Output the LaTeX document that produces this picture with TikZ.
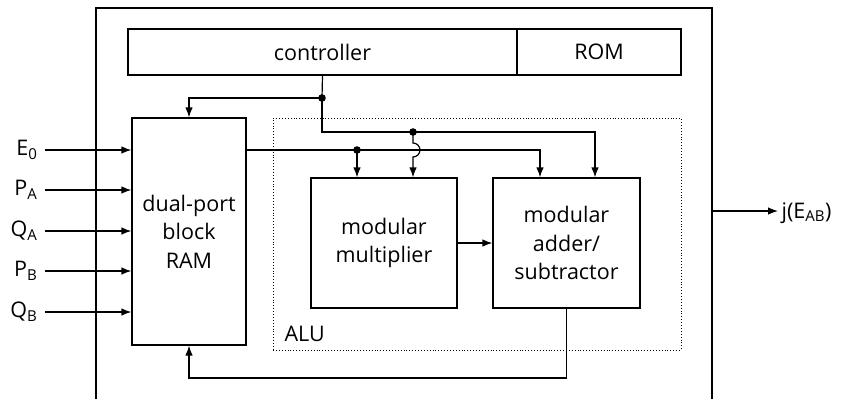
\documentclass[tikz,border=0pt]{standalone}
\usepackage{fontspec}
\setmainfont{Open Sans}
\usetikzlibrary{arrows.meta}
\begin{document}
\begin{tikzpicture}[x=1pt,y=-1pt,
  line width=1.2pt,
  box/.style={draw, rectangle, inner sep=0pt, align=center,
    font=\fontsize{21.5}{28.5}\selectfont},
  alubox/.style={draw, dotted, line width=0.9pt, rectangle, inner sep=0pt},
  lbl/.style={inner sep=0pt, font=\fontsize{21.5}{28.5}\selectfont},
  arr/.style={-{Latex[length=10pt,width=7.5pt]}},
  dot/.style={fill=black}]
\useasboundingbox (0,0) rectangle (857,399);
% outer frame
\draw (96,399) -- (96,8) -- (712,8) -- (712,399);
% blocks
\node[box, minimum width=389pt, minimum height=46pt] (ctrl) at (322.5,52) {controller};
\node[box, minimum width=164pt, minimum height=46pt] (rom) at (599,52) {ROM};
\node[box, minimum width=114pt, minimum height=227pt] (ram) at (189,231.5) {dual-port\\block\\RAM};
\node[alubox, minimum width=408pt, minimum height=232pt] (alu) at (477,234) {};
\node[lbl, anchor=south west] (alulbl) at (284,342) {ALU};
\node[box, minimum width=146pt, minimum height=130pt] (mult) at (384,243) {modular\\multiplier};
\node[box, minimum width=147pt, minimum height=130pt] (add) at (566.5,243) {modular\\adder/\\subtractor};
% inputs
\foreach \n/\y/\t in {e0/150/{E\textsubscript{0}}, pa/190/{P\textsubscript{A}}, qa/231/{Q\textsubscript{A}}, pb/271/{P\textsubscript{B}}, qb/312/{Q\textsubscript{B}}}{
  \coordinate (i\n) at (45,\y);
  \node[lbl, anchor=east] (\n) at (38,\y) {\t};
  \draw[arr] (i\n) -- (i\n -| ram.west);
}
% controller distribution
\coordinate (j1) at (322,98);
\coordinate (j2) at (413,132);
\coordinate (j3) at (357,150);
\draw (ctrl.south) -- (j1);
\draw[arr] (j1) -| (ram.north);
\draw[arr] (j1) |- (j2) -| ([xshift=28.5pt]add.north);
\draw[arr] (j2) -- (413,143) arc[start angle=-90, end angle=90, radius=7] -- (j2 |- mult.north);
% RAM output
\draw[arr] (ram.east |- j3) -| ([xshift=-26.5pt]add.north);
\draw[arr] (j3) -- (j3 |- mult.north);
\fill (j1) circle[radius=3.8];
\fill (j2) circle[radius=3.8];
\fill (j3) circle[radius=3.8];
% multiplier to adder
\draw[arr] (mult.east) -- (add.west);
% feedback
\coordinate (fb) at (566.5,378);
\draw[arr] (add.south) -- (fb) -| (ram.south);
% output
\coordinate (o1) at (712,211);
\coordinate (o2) at (778,211);
\node[lbl, anchor=west] (out) at (781,213) {j(E\textsubscript{AB})};
\draw[arr] (o1) -- (o2);
\end{tikzpicture}
\end{document}
